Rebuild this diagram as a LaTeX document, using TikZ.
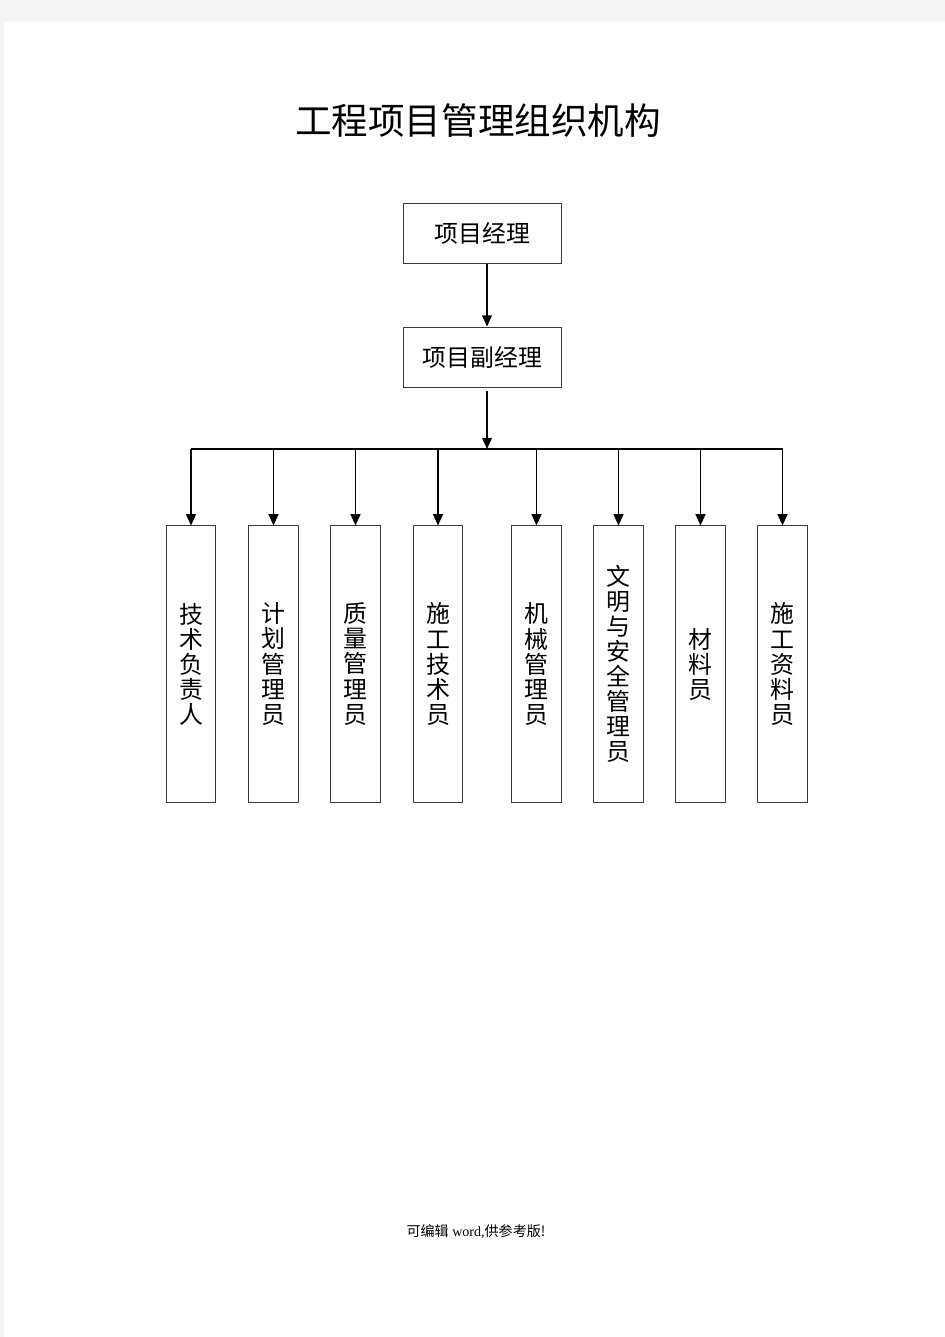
\documentclass[tikz,border=0pt]{standalone}
\usepackage{fontspec}
\setmainfont{Liberation Serif}
\newfontfamily\cjk{Noto Sans CJK SC}
\usetikzlibrary{positioning, arrows.meta, calc}
\definecolor{PageGray}{RGB}{244, 244, 244}
\definecolor{BoxLine}{RGB}{60, 60, 60}
\tikzset{
    topbox/.style={
        draw=BoxLine,
        line width=0.7pt,
        rectangle,
        minimum width=3.925cm,
        minimum height=1.5cm,
        inner sep=0pt,
        font=\cjk\fontsize{17}{20}\selectfont
    },
    staffbox/.style={
        draw=BoxLine,
        line width=0.7pt,
        rectangle,
        minimum width=1.24cm,
        minimum height=6.9cm,
        inner sep=0pt,
        align=center,
        font=\cjk\fontsize{17}{17.8}\selectfont
    },
    link/.style={
        draw=black,
        line width=1.2pt,
        -{Triangle[length=8pt, width=7pt]}
    }
}

\begin{document}
\begin{tikzpicture}[x=0.025cm, y=-0.025cm]

    % ============================================================================
    % PAGE
    % ============================================================================

    \fill[PageGray] (0,0) rectangle (945,1337);
    \fill[white] (4,22) rectangle (945,1337);
    \useasboundingbox (0,0) rectangle (945,1337);

    % Title
    \node[font=\cjk\fontsize{26}{30}\selectfont] (Title) at (478,121) {工程项目管理组织机构};

    % ============================================================================
    % MANAGEMENT
    % ============================================================================

    % Project manager
    \node[topbox] (Manager) at (482.5,233) {项目经理};

    % Deputy project manager
    \node[topbox] (Deputy) at (482.5,357) {项目副经理};

    % Junction on the bus line
    \coordinate (Bus) at (487,449);

    % ============================================================================
    % STAFF
    % ============================================================================

    \node[staffbox] (TechLead) at (191,664) {技\\术\\负\\责\\人};
    \node[staffbox] (Planner) at (273.5,664) {计\\划\\管\\理\\员};
    \node[staffbox] (Quality) at (355.5,664) {质\\量\\管\\理\\员};
    \node[staffbox] (SiteTech) at (438,664) {施\\工\\技\\术\\员};
    \node[staffbox] (Machinery) at (536.5,664) {机\\械\\管\\理\\员};
    \node[staffbox] (Safety) at (618.5,664) {文\\明\\与\\安\\全\\管\\理\\员};
    \node[staffbox] (Material) at (700.5,664) {材\\料\\员};
    \node[staffbox] (DataClerk) at (782.5,664) {施\\工\\资\\料\\员};

    % ============================================================================
    % CONNECTIONS
    % ============================================================================

    % Manager to deputy
    \draw[link] (Bus |- Manager.south) -- (Bus |- Deputy.north);

    % Deputy down to the bus
    \draw[link] ($(Bus |- Deputy.south) + (0,3)$) -- (Bus);

    % Bus line
    \draw[line width=1.2pt] (TechLead.north |- Bus) -- (DataClerk.north |- Bus);

    % Bus to each staff box
    \draw[link] (TechLead.north |- Bus) -- (TechLead.north);
    \draw[link] (Planner.north |- Bus) -- (Planner.north);
    \draw[link] (Quality.north |- Bus) -- (Quality.north);
    \draw[link] (SiteTech.north |- Bus) -- (SiteTech.north);
    \draw[link] (Machinery.north |- Bus) -- (Machinery.north);
    \draw[link] (Safety.north |- Bus) -- (Safety.north);
    \draw[link] (Material.north |- Bus) -- (Material.north);
    \draw[link] (DataClerk.north |- Bus) -- (DataClerk.north);

    % Footer
    \node[font=\fontsize{10}{12}\selectfont] (Footer) at (476,1232) {{\cjk 可编辑} word,{\cjk 供参考版!}};

\end{tikzpicture}
\end{document}
